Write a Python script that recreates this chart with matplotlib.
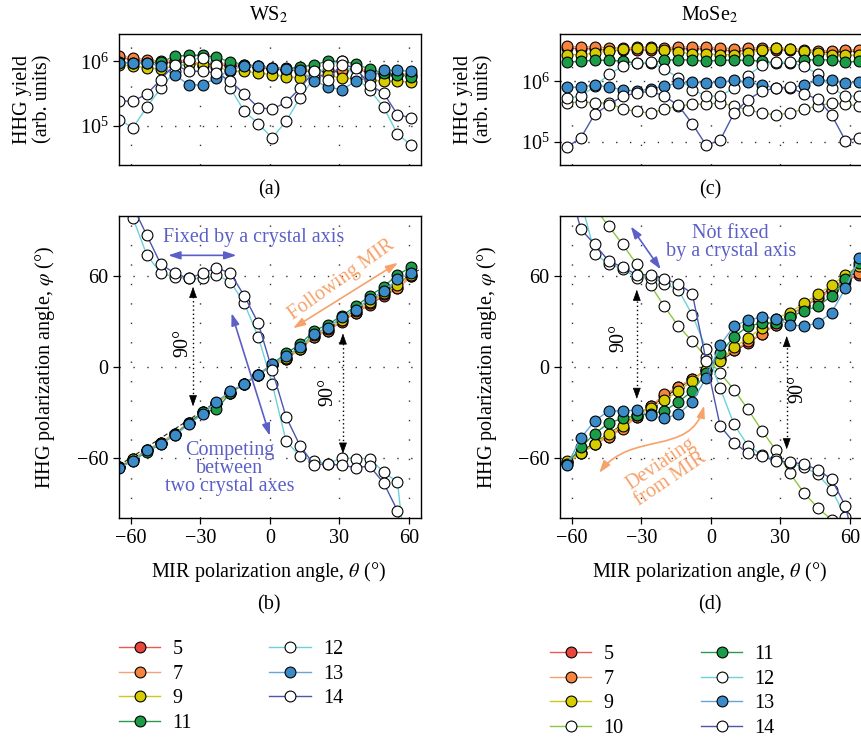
import numpy as np
import matplotlib
matplotlib.use('Agg')
import matplotlib.pyplot as plt
from matplotlib.patches import FancyArrowPatch
from matplotlib.path import Path
from matplotlib.ticker import FixedLocator, NullLocator

plt.rcParams['font.family'] = ['Liberation Serif', 'DejaVu Serif']
plt.rcParams['mathtext.fontset'] = 'stix'
FS = 14.5

# ---------------- data ----------------
# WS2: MIR polarization angle (deg)
theta_ws = [-65, -59, -53, -47, -41, -35, -29, -23, -17, -11, -5, 1, 7, 13, 19, 25, 31, 37, 43, 49, 55, 61]
# WS2 HHG yield (arb. units) per harmonic order
yield_ws_5 = [1.15e6, 1.05e6, 9.8e5, 9.4e5, 9.6e5, 9.8e5, 8.6e5, 9.0e5, 8.4e5, 8.5e5, 8.0e5, 7.6e5, 7.4e5, 7.1e5, 6.9e5, 7.0e5, 7.0e5, 7.5e5, 6.7e5, 6.2e5, 6.1e5, 6.0e5]
yield_ws_7 = [1.22e6, 1.13e6, 1.06e6, 1.0e6, 1.02e6, 1.05e6, 8.9e5, 9.5e5, 8.8e5, 8.9e5, 8.4e5, 8.0e5, 7.8e5, 7.5e5, 7.2e5, 7.2e5, 7.2e5, 8.0e5, 7.0e5, 6.5e5, 6.4e5, 6.3e5]
yield_ws_9 = [8.8e5, 8.5e5, 8.0e5, 7.5e5, 8.5e5, 9.0e5, 9.0e5, 8.3e5, 7.0e5, 7.0e5, 6.6e5, 6.2e5, 5.8e5, 5.5e5, 6.0e5, 6.2e5, 5.4e5, 5.4e5, 5.1e5, 4.9e5, 4.9e5, 4.7e5]
yield_ws_11 = [9.6e5, 9.5e5, 9.4e5, 9.7e5, 1.2e6, 1.24e6, 1.24e6, 1.15e6, 9.8e5, 8.9e5, 8.4e5, 7.9e5, 7.7e5, 8.1e5, 8.9e5, 1.0e6, 1.0e6, 9.2e5, 7.5e5, 6.6e5, 6.2e5, 5.8e5]
yield_ws_12 = [1.24e5, 9.2e4, 1.95e5, 3.8e5, 7.0e5, 1.06e6, 1.13e6, 8.9e5, 3.8e5, 1.67e5, 1.07e5, 6.4e4, 1.17e5, 2.7e5, 5.5e5, 8.9e5, 1.0e6, 5.6e5, 3.6e5, 1.93e5, 7.4e4, 4.9e4]
yield_ws_13 = [9.4e5, 9.4e5, 9.4e5, 8.4e5, 6.2e5, 4.3e5, 4.3e5, 5.5e5, 7.4e5, 8.4e5, 8.4e5, 7.9e5, 7.7e5, 7.2e5, 5.0e5, 4.0e5, 3.6e5, 4.9e5, 6.2e5, 7.2e5, 7.2e5, 7.0e5]
yield_ws_14 = [2.4e5, 2.4e5, 3.1e5, 5.2e5, 8.9e5, 7.0e5, 7.0e5, 6.6e5, 4.9e5, 3.1e5, 1.9e5, 1.8e5, 2.3e5, 3.8e5, 7.0e5, 5.2e5, 8.9e5, 7.9e5, 4.3e5, 3.2e5, 1.48e5, 1.31e5]
# WS2 HHG polarization angle (deg)
phi_ws_5 = [-66, -61, -55, -50, -44, -37, -30, -24, -17, -11, -5, 1, 5, 12, 20, 24, 30, 36, 41, 47, 52, 60]
phi_ws_7 = [-66, -61, -55, -50, -44, -37, -30, -24, -17, -11, -5, 1, 5, 12, 20, 24, 31, 36, 42, 48, 52, 60]
phi_ws_9 = [-66, -61, -55, -50, -44, -37, -30, -24, -17, -11, -5, 1, 6, 12, 21, 25, 31, 37, 43, 49, 54, 61]
phi_ws_11 = [-66, -62, -56, -51, -45, -37, -30, -28, -17, -11, -5, 2, 9, 15, 24, 28, 34, 40, 47, 53, 61, 66]
phi_ws_12 = [115, 98.5, 74, 62, 59.5, 58.5, 58.5, 60.5, 56.5, 42, 20, -11, -49, -59, -62, -64, -60, -60.5, -60.5, -69.5, -76, -160]
phi_ws_13 = [-67, -62, -55, -51, -45, -38, -31, -23, -16, -11, -5.5, 2, 7, 13, 22, 26, 33, 38, 45, 50, 58, 62]
phi_ws_14 = [125, 106, 87, 68, 62, 58.5, 62, 65.5, 62, 47, 29, -2, -33, -52, -64.5, -64, -65, -66.5, -65.5, -76.5, -95, -140]

# MoSe2: MIR polarization angle (deg)
theta_mo = [-62, -56, -50, -44, -38, -32, -26, -20, -14, -8, -2, 4, 10, 16, 22, 28, 34, 40, 46, 52, 58, 64]
yield_mo_5 = [3.5e6, 3.4e6, 3.4e6, 3.2e6, 3.3e6, 3.3e6, 3.2e6, 3.3e6, 3.4e6, 3.4e6, 3.4e6, 3.3e6, 3.1e6, 3.2e6, 3.3e6, 3.3e6, 3.2e6, 3.0e6, 2.95e6, 3.0e6, 3.1e6, 3.1e6]
yield_mo_7 = [3.75e6, 3.66e6, 3.66e6, 3.52e6, 3.52e6, 3.6e6, 3.6e6, 3.52e6, 3.66e6, 3.66e6, 3.66e6, 3.52e6, 3.43e6, 3.52e6, 3.52e6, 3.52e6, 3.43e6, 3.3e6, 3.18e6, 3.18e6, 3.3e6, 3.3e6]
yield_mo_9 = [2.73e6, 2.73e6, 2.91e6, 3.18e6, 3.44e6, 3.52e6, 3.52e6, 3.3e6, 3.03e6, 2.8e6, 2.8e6, 2.73e6, 2.73e6, 2.91e6, 3.3e6, 3.52e6, 3.39e6, 3.18e6, 2.91e6, 2.73e6, 2.67e6, 2.67e6]
yield_mo_10 = [4.4e5, 4.6e5, 4.4e5, 4.4e5, 3.5e5, 3.2e5, 3.0e5, 3.5e5, 3.9e5, 4.2e5, 4.2e5, 4.4e5, 3.9e5, 3.4e5, 3.0e5, 2.8e5, 3.0e5, 3.5e5, 3.9e5, 4.4e5, 4.2e5, 3.9e5]
yield_mo_11 = [2.05e6, 2.13e6, 2.21e6, 2.21e6, 2.13e6, 2.0e6, 2.0e6, 2.21e6, 2.27e6, 2.21e6, 2.13e6, 2.21e6, 2.21e6, 2.21e6, 2.13e6, 2.0e6, 2.0e6, 2.21e6, 2.27e6, 2.21e6, 2.05e6, 2.13e6]
yield_mo_12 = [5.3e5, 5.7e5, 8.3e5, 1.29e6, 1.76e6, 2.0e6, 2.05e6, 1.59e6, 1.13e6, 7.3e5, 5.7e5, 5.7e5, 7.8e5, 1.24e6, 1.83e6, 2.05e6, 2.05e6, 1.76e6, 1.32e6, 7.8e5, 5.7e5, 5.7e5]
yield_mo_13 = [7.97e5, 7.97e5, 8.8e5, 7.97e5, 7.3e5, 6.85e5, 7.5e5, 8.3e5, 9.4e5, 9.6e5, 9.4e5, 9.6e5, 1.03e6, 9.6e5, 8.6e5, 7.8e5, 7.8e5, 8.6e5, 1.03e6, 1.03e6, 9.4e5, 9.6e5]
yield_mo_14 = [8.3e4, 1.18e5, 2.9e5, 4.1e5, 5.7e5, 6.4e5, 6.85e5, 5.7e5, 4.0e5, 2.0e5, 8.9e4, 1.08e5, 3.0e5, 5.0e5, 6.85e5, 7.8e5, 8.0e5, 6.2e5, 5.1e5, 2.8e5, 1.06e5, 1.18e5]
phi_mo_5 = [-63, -57, -51, -46, -40, -33, -26, -19, -13, -8, -2, 5, 11, 16, 22, 28, 34, 40, 45, 51, 57, 61]
phi_mo_7 = [-63, -57, -51, -46, -41, -33, -26, -18, -13, -8, -2, 5, 11, 17, 22, 28, 34, 40, 46, 51, 58, 62]
phi_mo_9 = [-62, -57, -51, -44, -39, -32, -27, -22, -16, -9, -2, 4, 13, 19, 26, 32, 36, 42, 48, 54, 61, 67]
phi_mo_10 = [130, 118, 105, 93, 81, 68, 54, 40, 27, 17, 6.5, -4, -15, -28, -42, -55, -70, -83, -93, -101, -112, -125]
phi_mo_11 = [-64, -53, -44, -37, -34, -32, -31, -29, -23, -16, -4, 9, 20, 27, 29, 29, 33, 37, 40, 47, 58, 69]
phi_mo_12 = [140, 110, 75, 68, 65, 59, 59, 55, 51, 34.5, 12, -14, -38, -52, -58, -61, -63.5, -66, -71, -81, -99, -140]
phi_mo_13 = [-65, -47, -35.5, -29, -29, -28.5, -32, -34, -31, -23, -7, 14.5, 27, 31, 33, 32, 28, 27, 29, 36, 52, 72]
phi_mo_14 = [125, 91, 81, 70, 66, 61, 61, 58, 55, 48.5, 4, -39, -50, -57, -59, -62, -63, -64, -68, -74, -92, -130]

# phi = theta reference line end points
ref_line = [-65, 65]

# ---------------- styles ----------------
face = {5: '#e8463c', 7: '#f6843f', 9: '#d6cc00', 10: 'white', 11: '#1c9b48',
        12: 'white', 13: '#3b8bc9', 14: 'white'}
linec = {5: '#ec5a4f', 7: '#f7a072', 9: '#cfc81c', 10: '#8dc63f', 11: '#2a9a50',
         12: '#6ad2da', 13: '#66a6d6', 14: '#4c56b0'}
ann_blue = '#5b5fc7'
ann_orange = '#f7a26a'

W, H = 861, 738
fig = plt.figure(figsize=(W / 100, H / 100), dpi=100)


def rect(l, t, r, b):
    return [l / W, 1 - b / H, (r - l) / W, (b - t) / H]


def fx(px):
    return px / W


def fy(py):
    return 1 - py / H


axa = fig.add_axes(rect(119, 33.7, 420.7, 164.7))
axc = fig.add_axes(rect(560, 33.7, 861.7, 164.7))
axb = fig.add_axes(rect(119, 215.7, 420.7, 518.3))
axd = fig.add_axes(rect(560, 215.7, 861.7, 518.3))


def draw(ax, x, y, order):
    return ax.plot(x, y, '-o', color=linec[order], lw=1.0, ms=7.8, mfc=face[order],
                   mec='black', mew=0.8, label=str(order))[0]


axb.plot(ref_line, ref_line, color='#222222', lw=0.8, ls=(0, (4, 2)), zorder=1.9)
axd.plot(ref_line, ref_line, color='#222222', lw=0.8, zorder=1.9)

for order, yv, pv in [(5, yield_ws_5, phi_ws_5), (7, yield_ws_7, phi_ws_7),
                      (9, yield_ws_9, phi_ws_9), (11, yield_ws_11, phi_ws_11),
                      (12, yield_ws_12, phi_ws_12), (13, yield_ws_13, phi_ws_13),
                      (14, yield_ws_14, phi_ws_14)]:
    draw(axa, theta_ws, yv, order)
    draw(axb, theta_ws, pv, order)

for order, yv, pv in [(5, yield_mo_5, phi_mo_5), (7, yield_mo_7, phi_mo_7),
                      (9, yield_mo_9, phi_mo_9), (10, yield_mo_10, phi_mo_10),
                      (11, yield_mo_11, phi_mo_11), (12, yield_mo_12, phi_mo_12),
                      (13, yield_mo_13, phi_mo_13), (14, yield_mo_14, phi_mo_14)]:
    draw(axc, theta_mo, yv, order)
    draw(axd, theta_mo, pv, order)

# axes styling
for ax in [axa, axb, axc, axd]:
    ax.set_xlim(-65, 65)
    ax.xaxis.set_major_locator(FixedLocator([-60, -30, 0, 30, 60]))
    ax.grid(axis='x', color='#333333', lw=1.0, ls=(0, (1, 13)))
    ax.grid(axis='y', color='#333333', lw=1.0, ls=(0, (1, 9)))
    ax.set_axisbelow(True)
    for s in ax.spines.values():
        s.set_linewidth(1.0)
    ax.tick_params(direction='out', length=4.5, width=0.9, labelsize=FS, pad=3)

for ax, lo, hi in [(axa, 10 ** 4.39, 10 ** 6.43), (axc, 10 ** 4.63, 10 ** 6.78)]:
    ax.set_yscale('log')
    ax.set_ylim(lo, hi)
    ax.yaxis.set_major_locator(FixedLocator([1e5, 1e6]))
    ax.yaxis.set_minor_locator(NullLocator())
    ax.tick_params(axis='x', length=0, labelbottom=False)

for ax in [axb, axd]:
    ax.set_ylim(-100, 100)
    ax.yaxis.set_major_locator(FixedLocator([-60, 0, 60]))

# titles and labels
fig.text(fx(269), fy(15), 'WS$_2$', ha='center', va='center', fontsize=FS)
fig.text(fx(710), fy(15), 'MoSe$_2$', ha='center', va='center', fontsize=FS)
for px, py, s in [(269, 190, '(a)'), (710, 190, '(c)'), (269, 605, '(b)'), (710, 605, '(d)')]:
    fig.text(fx(px), fy(py), s, ha='center', va='center', fontsize=FS)
for px in [33, 474]:
    fig.text(fx(px), fy(99), 'HHG yield\n(arb. units)', rotation=90, ha='center',
             va='center', multialignment='center', fontsize=FS, linespacing=1.1)
for px in [45, 487]:
    fig.text(fx(px), fy(367), 'HHG polarization angle, $\\varphi$ (°)', rotation=90,
             ha='center', va='center', fontsize=FS)
for px in [269, 710]:
    fig.text(fx(px), fy(572), 'MIR polarization angle, $\\theta$ (°)', ha='center',
             va='center', fontsize=FS)


def dbl_arrow(ax, p0, p1, color, lw=1.2):
    ax.annotate('', xy=p1, xytext=p0,
                arrowprops=dict(arrowstyle='<|-|>,head_length=0.6,head_width=0.2',
                                color=color, lw=lw, shrinkA=0, shrinkB=0,
                                mutation_scale=12))


def dotted_90(ax, x, y0, y1):
    ax.plot([x, x], [y0 + 3, y1 - 3], color='k', lw=1.0, ls=(0, (1, 2)))
    for a, b in [(y1 - 6, y1), (y0 + 6, y0)]:
        ax.annotate('', xy=(x, b), xytext=(x, a),
                    arrowprops=dict(arrowstyle='-|>,head_length=0.7,head_width=0.25',
                                    color='k', lw=0.5, shrinkA=0, shrinkB=0,
                                    mutation_scale=10))


# panel (b) annotations
axb.text(-7.2, 85.6, 'Fixed by a crystal axis', color=ann_blue, ha='center',
         va='center', fontsize=FS)
dbl_arrow(axb, (-43.8, 73.8), (-14.4, 73.8), ann_blue)
axb.text(30.8, 57.3, 'Following MIR', color=ann_orange, rotation=35.5,
         rotation_mode='anchor', ha='center', va='center', fontsize=FS)
dbl_arrow(axb, (10, 25.6), (55.2, 68.9), ann_orange)
axb.text(-17.3, -67.2, 'Competing\nbetween\ntwo crystal axes', color=ann_blue,
         ha='center', va='center', multialignment='center', fontsize=FS, linespacing=0.95)
dbl_arrow(axb, (-16.5, 35.6), (0.0, -45.5), ann_blue)
dotted_90(axb, -33.1, -26, 53)
dotted_90(axb, 31.5, -57.3, 22.2)
axb.text(-37.6, 15.6, '90°', rotation=90, ha='center', va='center', fontsize=FS)
axb.text(25.0, -16.7, '90°', rotation=90, ha='center', va='center', fontsize=FS)

# panel (d) annotations
axd.text(8.6, 82.5, 'Not fixed\nby a crystal axis', color=ann_blue, ha='center',
         va='center', multialignment='center', fontsize=FS, linespacing=0.95)
dbl_arrow(axd, (-34.5, 92.9), (-21.6, 64.5), ann_blue)
dotted_90(axd, -31.9, -21.1, 51.1)
dotted_90(axd, 32.7, -54.4, 20.5)
axd.text(-39.5, 18.9, '90°', rotation=90, ha='center', va='center', fontsize=FS)
axd.text(37.4, -14.4, '90°', rotation=90, ha='center', va='center', fontsize=FS)
axd.text(-19.4, -69.1, 'Deviating\nfrom MIR', color=ann_orange, rotation=34,
         rotation_mode='anchor', ha='center', va='center', multialignment='center',
         fontsize=FS, linespacing=0.95)
curve = Path([(-48.1, -70.0), (-34.5, -42.2), (-8.7, -58.9), (-2.9, -25.5)],
             [Path.MOVETO, Path.CURVE4, Path.CURVE4, Path.CURVE4])
axd.add_patch(FancyArrowPatch(path=curve, arrowstyle='<|-|>,head_length=0.6,head_width=0.2',
                              color=ann_orange, lw=1.2, mutation_scale=12))

# legends
h_ws, l_ws = axb.get_legend_handles_labels()
h_mo, l_mo = axd.get_legend_handles_labels()
leg_kw = dict(frameon=False, fontsize=FS, handlelength=2.05, handletextpad=0.6,
              labelspacing=0.27, borderpad=0, borderaxespad=0, loc='upper left', ncol=2)
fig.legend(h_ws, l_ws, bbox_to_anchor=(fx(119), fy(640)), columnspacing=3.85, **leg_kw)
fig.legend(h_mo, l_mo, bbox_to_anchor=(fx(550), fy(645)), columnspacing=3.85, **leg_kw)

fig.savefig('out.png', dpi=100)
